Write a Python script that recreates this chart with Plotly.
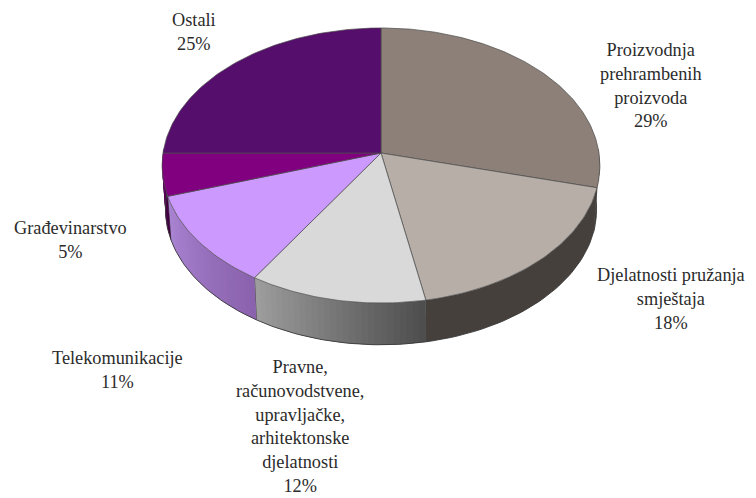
import math
import plotly.graph_objects as go

categories = ["Proizvodnja<br>prehrambenih<br>proizvoda", "Djelatnosti pružanja<br>smještaja",
              "Pravne,<br>računovodstvene,<br>upravljačke,<br>arhitektonske<br>djelatnosti",
              "Telekomunikacije", "Građevinarstvo", "Ostali"]
values = [29, 18, 12, 11, 5, 25]
top_colors = ["#8c8078", "#b6aea7", "#d9d9d9", "#cc99ff", "#800080", "#560e6c"]
wall_left = ["#45403c", "#45403c", "#a0a0a0", "#ab86d4", "#5a005a", "#3c0a4c"]
wall_right = ["#45403c", "#45403c", "#4e4e4e", "#8a62ad", "#400040", "#3c0a4c"]
label_xy = [(651, 85), (671, 299), (300, 426), (117, 369.5), (70, 240), (194, 31.5)]

CX, CY, A, B, K = 381, 153, 218, 136.4, 0.0909
SHRINK, DROP = 0.985, 44
EDGE = "#3a3a3a"


def top(deg):
    t = math.radians(deg)
    x, y = math.sin(t), math.cos(t)
    s = 1 / (1 + K * y)
    return CX + A * x * s, CY - B * y * s


def bottom(deg):
    x, y = top(deg)
    return CX + (x - CX) * SHRINK, CY + (y - CY) * SHRINK + DROP


def hexrgb(c):
    return [int(c[i:i + 2], 16) for i in (1, 3, 5)]


def mix(c1, c2, f):
    a, b = hexrgb(c1), hexrgb(c2)
    return "rgb(%d,%d,%d)" % tuple(round(a[i] + (b[i] - a[i]) * f) for i in range(3))


fig = go.Figure()


def poly(pts, fill, line=None, width=0.0):
    fig.add_trace(go.Scatter(
        x=[p[0] for p in pts], y=[p[1] for p in pts], mode="lines", fill="toself",
        fillcolor=fill, hoverinfo="skip", showlegend=False,
        line=dict(color=line or fill, width=width if line else 0)))


def path(pts, width=0.8, color=EDGE):
    fig.add_trace(go.Scatter(
        x=[p[0] for p in pts], y=[p[1] for p in pts], mode="lines", hoverinfo="skip",
        showlegend=False, line=dict(color=color, width=width)))


starts, acc = [], 0
for v in values:
    starts.append(acc)
    acc += v
total = float(acc)
ang = [s / total * 360 for s in starts] + [360]

# walls (front half only: angles 90..270)
for i in range(len(values)):
    a0, a1 = max(ang[i], 88), min(ang[i + 1], 272)
    if a1 <= a0:
        continue
    if wall_left[i] == wall_right[i]:
        steps = [a0 + (a1 - a0) * j / 40 for j in range(41)]
        pts = [top(d) for d in steps] + [bottom(d) for d in reversed(steps)]
        poly(pts + pts[:1], wall_left[i])
    else:
        n = max(3, int((a1 - a0) / 1.5))
        for j in range(n):
            b0 = a0 + (a1 - a0) * j / n
            b1 = min(a1, a0 + (a1 - a0) * (j + 2) / n)   # overlap the next strip to hide seams
            pts = [top(b0), top(b1), bottom(b1), bottom(b0), top(b0)]
            poly(pts, mix(wall_right[i], wall_left[i], j / n))
    steps = [a0 + (a1 - a0) * j / 40 for j in range(41)]
    path([bottom(d) for d in steps], 0.9)
    if 90 < ang[i + 1] < 270:
        path([top(ang[i + 1]), bottom(ang[i + 1])], 0.8)

# top faces
for i in range(len(values)):
    a0, a1 = ang[i], ang[i + 1]
    n = max(8, int(a1 - a0))
    arc = [top(a0 + (a1 - a0) * j / n) for j in range(n + 1)]
    poly([(CX, CY)] + arc + [(CX, CY)], top_colors[i], "#4a4a4a", 0.7)

for i, (lab, v) in enumerate(zip(categories, values)):
    fig.add_annotation(x=label_xy[i][0], y=label_xy[i][1], text=f"{lab}<br>{v}%", showarrow=False,
                       xanchor="center", yanchor="middle", align="center",
                       font=dict(family="Liberation Serif", size=18.3, color="#2b2b2b"))

# the page adds an 8 px body margin, so the axis window is shifted by the same amount
fig.update_layout(
    width=756, height=498, margin=dict(l=0, r=0, t=0, b=0), autosize=False,
    paper_bgcolor="white", plot_bgcolor="white",
    xaxis=dict(range=[8, 764], visible=False, fixedrange=True),
    yaxis=dict(range=[506, 8], visible=False, fixedrange=True),
    showlegend=False)
fig.write_html("out.html")
